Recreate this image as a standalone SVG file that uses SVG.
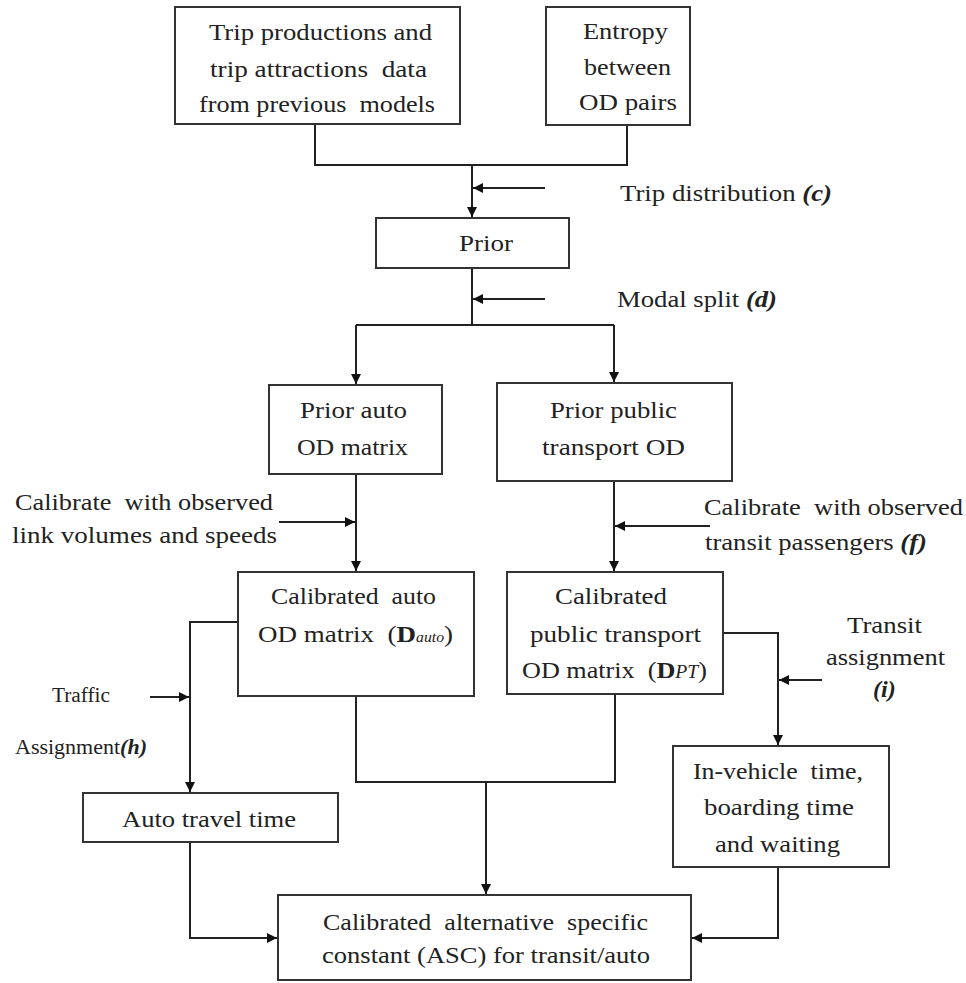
<svg xmlns="http://www.w3.org/2000/svg" width="966" height="983" viewBox="0 0 966 983">
<defs>
<style>
.box{fill:#fff;stroke:#333;stroke-width:2}
.ln{fill:none;stroke:#222;stroke-width:2}
.t{font-family:"Liberation Serif","Times New Roman",serif;font-size:24px;fill:#222}
.s{font-size:20px}
.i{font-style:italic;font-weight:bold}
</style>
<marker id="ah" viewBox="0 0 10 10" refX="10" refY="5" markerWidth="11" markerHeight="10" markerUnits="userSpaceOnUse" orient="auto">
<path d="M0,0 L10,5 L0,10 z" fill="#111"/>
</marker>
</defs>
<rect width="966" height="983" fill="#fff"/>

<g id="connectors">
<path class="ln" d="M315,124 V165 H627 V125"/>
<path class="ln" d="M472,165 V217" marker-end="url(#ah)"/>
<path class="ln" d="M545,188 H473" marker-end="url(#ah)"/>
<path class="ln" d="M472,268 V325"/>
<path class="ln" d="M545,299 H473" marker-end="url(#ah)"/>
<path class="ln" d="M356,325 H614"/>
<path class="ln" d="M356,325 V384" marker-end="url(#ah)"/>
<path class="ln" d="M614,325 V382" marker-end="url(#ah)"/>
<path class="ln" d="M356,474 V571" marker-end="url(#ah)"/>
<path class="ln" d="M279,522 H355" marker-end="url(#ah)"/>
<path class="ln" d="M614,481 V571" marker-end="url(#ah)"/>
<path class="ln" d="M710,526 H615" marker-end="url(#ah)"/>
<path class="ln" d="M238,622 H190 V792" marker-end="url(#ah)"/>
<path class="ln" d="M150,697 H189" marker-end="url(#ah)"/>
<path class="ln" d="M723,633 H778 V745" marker-end="url(#ah)"/>
<path class="ln" d="M822,680 H779" marker-end="url(#ah)"/>
<path class="ln" d="M356,696 V782 H615 V694"/>
<path class="ln" d="M486,782 V894" marker-end="url(#ah)"/>
<path class="ln" d="M190,842 V938 H277" marker-end="url(#ah)"/>
<path class="ln" d="M778,867 V938 H692" marker-end="url(#ah)"/>
</g>

<g id="trip-data">
<rect class="box" x="175" y="7" width="285" height="117"/>
<text class="t" x="209" y="40" textLength="223" lengthAdjust="spacingAndGlyphs">Trip productions and</text>
<text class="t" x="210" y="77" textLength="217" lengthAdjust="spacingAndGlyphs" xml:space="preserve">trip attractions  data</text>
<text class="t" x="199" y="112" textLength="236" lengthAdjust="spacingAndGlyphs" xml:space="preserve">from previous  models</text>
</g>

<g id="entropy">
<rect class="box" x="546" y="7" width="144" height="118"/>
<text class="t" x="583" y="39" textLength="85" lengthAdjust="spacingAndGlyphs">Entropy</text>
<text class="t" x="584" y="75" textLength="87" lengthAdjust="spacingAndGlyphs">between</text>
<text class="t" x="579" y="110" textLength="98" lengthAdjust="spacingAndGlyphs">OD pairs</text>
</g>

<g id="label-trip-distribution">
<text class="t" x="620" y="201" textLength="212" lengthAdjust="spacingAndGlyphs">Trip distribution <tspan class="i">(c)</tspan></text>
</g>

<g id="prior">
<rect class="box" x="376" y="218" width="193" height="50"/>
<text class="t" x="459" y="251" textLength="54" lengthAdjust="spacingAndGlyphs">Prior</text>
</g>

<g id="label-modal-split">
<text class="t" x="617" y="307" textLength="160" lengthAdjust="spacingAndGlyphs">Modal split <tspan class="i">(d)</tspan></text>
</g>

<g id="prior-auto">
<rect class="box" x="269" y="385" width="173" height="89"/>
<text class="t" x="300" y="418" textLength="107" lengthAdjust="spacingAndGlyphs">Prior auto</text>
<text class="t" x="297" y="455" textLength="111" lengthAdjust="spacingAndGlyphs">OD matrix</text>
</g>

<g id="prior-pt">
<rect class="box" x="497" y="383" width="235" height="98"/>
<text class="t" x="550" y="418" textLength="127" lengthAdjust="spacingAndGlyphs">Prior public</text>
<text class="t" x="542" y="455" textLength="143" lengthAdjust="spacingAndGlyphs">transport OD</text>
</g>

<g id="label-calibrate-auto">
<text class="t" x="15" y="510" textLength="258" lengthAdjust="spacingAndGlyphs" xml:space="preserve">Calibrate  with observed</text>
<text class="t" x="12" y="543" textLength="265" lengthAdjust="spacingAndGlyphs">link volumes and speeds</text>
</g>

<g id="label-calibrate-pt">
<text class="t" x="704" y="515" textLength="259" lengthAdjust="spacingAndGlyphs" xml:space="preserve">Calibrate  with observed</text>
<text class="t" x="705" y="550" textLength="222" lengthAdjust="spacingAndGlyphs">transit passengers <tspan class="i">(f)</tspan></text>
</g>

<g id="calibrated-auto">
<rect class="box" x="238" y="572" width="236" height="124"/>
<text class="t" x="271" y="604" textLength="165" lengthAdjust="spacingAndGlyphs" xml:space="preserve">Calibrated  auto</text>
<text class="t" x="258" y="642" textLength="195" lengthAdjust="spacingAndGlyphs" xml:space="preserve">OD matrix  (<tspan font-weight="bold">D</tspan><tspan font-style="italic" font-size="14px">auto</tspan>)</text>
</g>

<g id="calibrated-pt">
<rect class="box" x="507" y="572" width="216" height="122"/>
<text class="t" x="555" y="604" textLength="112" lengthAdjust="spacingAndGlyphs">Calibrated</text>
<text class="t" x="530" y="642" textLength="171" lengthAdjust="spacingAndGlyphs">public transport</text>
<text class="t" x="522" y="678" textLength="185" lengthAdjust="spacingAndGlyphs" xml:space="preserve">OD matrix  (<tspan font-weight="bold">D</tspan><tspan font-style="italic" font-size="18px">PT</tspan>)</text>
</g>

<g id="label-traffic-assignment">
<text class="t s" x="52" y="702" textLength="58" lengthAdjust="spacingAndGlyphs">Traffic</text>
<text class="t s" x="15" y="754" textLength="132" lengthAdjust="spacingAndGlyphs">Assignment<tspan class="i">(h)</tspan></text>
</g>

<g id="label-transit-assignment">
<text class="t" x="847" y="633" textLength="75" lengthAdjust="spacingAndGlyphs">Transit</text>
<text class="t" x="826" y="665" textLength="119" lengthAdjust="spacingAndGlyphs">assignment</text>
<text class="t i" x="873" y="697">(i)</text>
</g>

<g id="auto-travel-time">
<rect class="box" x="83" y="793" width="255" height="49"/>
<text class="t" x="122" y="827" textLength="174" lengthAdjust="spacingAndGlyphs">Auto travel time</text>
</g>

<g id="in-vehicle">
<rect class="box" x="673" y="746" width="216" height="121"/>
<text class="t" x="693" y="779" textLength="170" lengthAdjust="spacingAndGlyphs" xml:space="preserve">In-vehicle  time,</text>
<text class="t" x="704" y="815" textLength="150" lengthAdjust="spacingAndGlyphs">boarding time</text>
<text class="t" x="715" y="852" textLength="125" lengthAdjust="spacingAndGlyphs">and waiting</text>
</g>

<g id="asc">
<rect class="box" x="278" y="895" width="413" height="85"/>
<text class="t" x="323" y="930" textLength="325" lengthAdjust="spacingAndGlyphs" xml:space="preserve">Calibrated  alternative  specific</text>
<text class="t" x="322" y="963" textLength="328" lengthAdjust="spacingAndGlyphs">constant (ASC) for transit/auto</text>
</g>
</svg>
